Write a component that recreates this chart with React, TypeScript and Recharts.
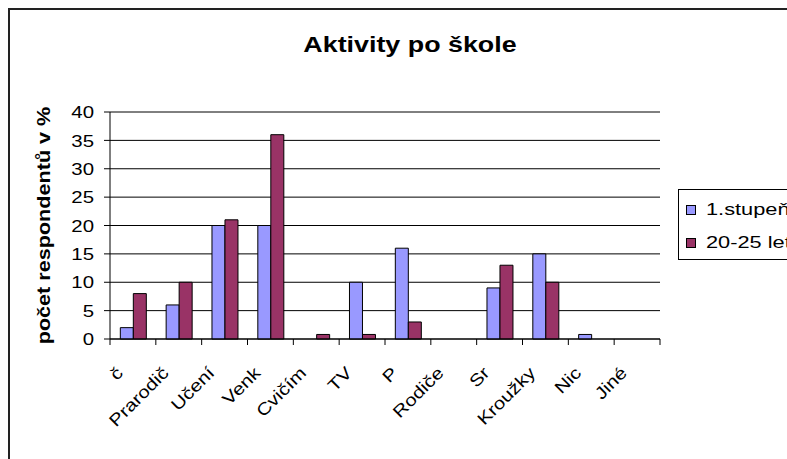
import { BarChart, Bar, XAxis, YAxis, CartesianGrid, Legend, Label } from 'recharts'

const categories = ['č', 'Prarodič', 'Učení', 'Venk', 'Cvičím', 'TV', 'P', 'Rodiče', 'Sr', 'Kroužky', 'Nic', 'Jiné']
const stupen1 = [2, 6, 20, 20, 0, 10, 16, 0, 9, 15, 0.8, 0]
const let2025 = [8, 10, 21, 36, 0.8, 0.8, 3, 0, 13, 10, 0, 0]
const yTicks = [0, 5, 10, 15, 20, 25, 30, 35, 40]
const seriesNames = ['1.stupeň', '20-25 let']
const colors = ['#9999FF', '#993366']

const W = 787
const H = 459
const LEFT = 110
const RIGHT = 660
const TOP = 112
const BOTTOM = 339
const BAND = (RIGHT - LEFT) / categories.length
const FONT = 'Arial, "Liberation Sans", sans-serif'
const STRETCH = 1.2

const data = categories.map((c, i) => ({
  name: c,
  [seriesNames[0]]: stupen1[i],
  [seriesNames[1]]: let2025[i],
}))

function XTick(props: any) {
  const { x, y, payload, index } = props
  const half = BAND / 2
  const top = y - 6
  return (
    <g>
      <line x1={x - half} x2={x - half} y1={top} y2={top + 6} stroke="#000" />
      {index === categories.length - 1 && (
        <line x1={x + half} x2={x + half} y1={top} y2={top + 6} stroke="#000" />
      )}
      <g transform={`translate(${x - 9} ${y + 29}) rotate(-45)`}>
        <text x={0} y={0} textAnchor="end" transform={`scale(${STRETCH} 1)`} fontSize={17} fontFamily={FONT} fill="#000">
          {payload.value}
        </text>
      </g>
    </g>
  )
}

function YTick(props: any) {
  const { x, y, payload } = props
  return (
    <g transform={`translate(${x} ${y})`}>
      <text x={0} y={0} dy="0.36em" textAnchor="end" transform={`scale(${STRETCH} 1)`} fontSize={17} fontFamily={FONT} fill="#000">
        {payload.value}
      </text>
    </g>
  )
}

function LegendBox() {
  return (
    <div
      style={{
        width: 130,
        height: 71,
        border: '1px solid #000',
        background: '#fff',
        fontFamily: FONT,
        fontSize: 17,
        boxSizing: 'border-box',
        position: 'relative',
      }}
    >
      {seriesNames.map((n, i) => (
        <div
          key={n}
          style={{ position: 'absolute', left: 7, top: 10 + i * 33, height: 20, display: 'flex', alignItems: 'center', whiteSpace: 'nowrap' }}
        >
          <span style={{ display: 'inline-block', width: 8, height: 8, background: colors[i], border: '1px solid #000', marginRight: 10 }} />
          <span style={{ display: 'inline-block', transform: 'scaleX(1.28)', transformOrigin: 'left center' }}>{n}</span>
        </div>
      ))}
    </div>
  )
}

export default function App() {
  return (
    <div style={{ position: 'absolute', left: 0, top: 0, width: W, height: H, overflow: 'hidden', background: '#fff' }}>
      <div
        style={{
          position: 'absolute',
          left: 8,
          top: 8,
          width: 820,
          height: 500,
          border: '2px solid #222',
        }}
      />
      <div
        style={{
          position: 'absolute',
          left: 0,
          width: 820,
          top: 34,
          lineHeight: '22px',
          textAlign: 'center',
          fontFamily: FONT,
          fontWeight: 'bold',
          fontSize: 22,
          transform: 'scaleX(1.22)',
          transformOrigin: '410px 0',
        }}
      >
        Aktivity po škole
      </div>
      <div style={{ position: 'absolute', left: 0, top: 0 }}>
        <BarChart
          width={W}
          height={H}
          data={data}
          margin={{ top: TOP, right: W - RIGHT, bottom: 0, left: 0 }}
          barCategoryGap="22.5%"
          barGap={0}
        >
          <CartesianGrid vertical={false} stroke="#000" />
          <XAxis
            dataKey="name"
            height={H - BOTTOM}
            axisLine={{ stroke: '#000' }}
            tickLine={false}
            tickSize={6}
            tickMargin={0}
            interval={0}
            tick={<XTick />}
          />
          <YAxis
            width={LEFT}
            domain={[0, 40]}
            ticks={yTicks}
            interval={0}
            axisLine={{ stroke: '#000' }}
            tickLine={{ stroke: '#000' }}
            tickSize={6}
            tickMargin={10}
            tick={<YTick />}
          >
            <Label
              content={(p: any) => {
                const vb = p.viewBox
                const cx = 50
                const cy = vb.y + vb.height / 2
                return (
                  <g transform={`translate(${cx} ${cy}) rotate(-90)`}>
                    <text
                      x={0}
                      y={0}
                      textAnchor="middle"
                      transform={`scale(${STRETCH} 1)`}
                      fontSize={18}
                      fontWeight="bold"
                      fontFamily={FONT}
                      fill="#000"
                    >
                      počet respondentů v %
                    </text>
                  </g>
                )
              }}
            />
          </YAxis>
          <YAxis
            yAxisId="frame"
            orientation="right"
            width={0}
            tick={false}
            tickLine={false}
            axisLine={{ stroke: '#808080', strokeWidth: 2 }}
          />
          <Legend
            layout="vertical"
            align="center"
            verticalAlign="middle"
            content={<LegendBox />}
            wrapperStyle={{ left: 678, top: 189, width: 130, height: 71 }}
          />
          {seriesNames.map((n, i) => (
            <Bar key={n} dataKey={n} fill={colors[i]} stroke="#000" strokeWidth={1} isAnimationActive={false} />
          ))}
        </BarChart>
      </div>
    </div>
  )
}
